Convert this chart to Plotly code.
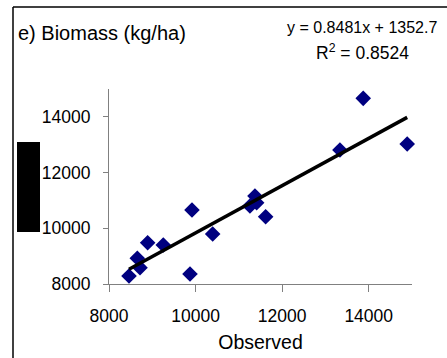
import plotly.graph_objects as go

# Data
observed = [8462, 8654, 8716, 8893, 9254, 9917, 9871, 10395, 11256, 11372, 11411, 11619, 13873, 13335, 14889]
simulated = [8287, 8922, 8587, 9483, 9400, 10656, 8359, 9795, 10800, 11159, 10918, 10416, 14665, 12810, 13025]
slope = 0.8481
intercept = 1352.7
r2 = 0.8524
x_ticks = [8000, 10000, 12000, 14000]
y_ticks = [8000, 10000, 12000, 14000]
tick_labels = ["8000", "10000", "12000", "14000"]

W, H = 447, 358
L, R, T, B = 109, 412, 89, 284  # plot area in pixels


def px(x):
    return (x - L) / (R - L)


def py(y):
    return (B - y) / (B - T)


fit_x = [min(observed), max(observed)]
fit_y = [slope * v + intercept for v in fit_x]

fig = go.Figure()
fig.add_trace(go.Scatter(x=observed, y=simulated, mode="markers",
                         marker=dict(symbol="diamond", size=12, color="#000080",
                                     line=dict(width=0)),
                         showlegend=False, cliponaxis=False))
fig.add_trace(go.Scatter(x=fit_x, y=fit_y, mode="lines",
                         line=dict(color="black", width=3.5), showlegend=False))

fam = "Liberation Sans, Arial, sans-serif"
tickfont = dict(family=fam, size=17.5, color="black")
textfont = dict(family=fam, size=19.5, color="black")

fig.update_layout(
    width=W, height=H,
    margin=dict(l=L, r=W - R, t=T, b=H - B, pad=0, autoexpand=False),
    paper_bgcolor="white", plot_bgcolor="white",
    font=textfont,
    xaxis=dict(range=[8000, 15000], tickvals=x_ticks, ticktext=tick_labels,
               showgrid=False, zeroline=False, automargin=False,
               showline=True, linecolor="#808080", linewidth=1,
               ticks="outside", ticklen=7, tickcolor="#808080",
               tickfont=tickfont, ticklabelstandoff=9,
               title=dict(text="Observed", font=textfont, standoff=10)),
    yaxis=dict(range=[8000, 15000], tickvals=y_ticks, ticktext=tick_labels,
               showgrid=False, zeroline=False, automargin=False,
               showline=True, linecolor="#808080", linewidth=1,
               ticks="outside", ticklen=5, tickcolor="#808080",
               tickfont=tickfont, ticklabelstandoff=9),
)

fig.add_annotation(text="e) Biomass (kg/ha)", xref="paper", yref="paper",
                   x=px(16), y=py(33), xanchor="left", yanchor="middle",
                   showarrow=False, font=dict(family=fam, size=20, color="black"))
fig.add_annotation(text="y = 0.8481x + 1352.7", xref="paper", yref="paper",
                   x=px(439), y=py(27), xanchor="right", yanchor="middle",
                   showarrow=False, font=dict(family=fam, size=16, color="black"))
fig.add_annotation(text="R<sup>2</sup> = 0.8524", xref="paper", yref="paper",
                   x=px(362), y=py(52), xanchor="center", yanchor="middle",
                   showarrow=False, font=dict(family=fam, size=17.5, color="black"))

# black box (redacted label)
fig.add_shape(type="rect", xref="paper", yref="paper",
              x0=px(17), x1=px(40), y0=py(232), y1=py(142),
              fillcolor="black", line=dict(width=0))
# outer frame
fig.add_shape(type="line", xref="paper", yref="paper",
              x0=px(13), x1=px(13), y0=py(7), y1=py(360),
              line=dict(color="black", width=1.5))
fig.add_shape(type="line", xref="paper", yref="paper",
              x0=px(13), x1=px(450), y0=py(7), y1=py(7),
              line=dict(color="black", width=1.5))

fig.write_html("out.html", config={"displayModeBar": False},
               post_script="document.body.style.margin='0px';document.body.style.overflow='hidden';")
